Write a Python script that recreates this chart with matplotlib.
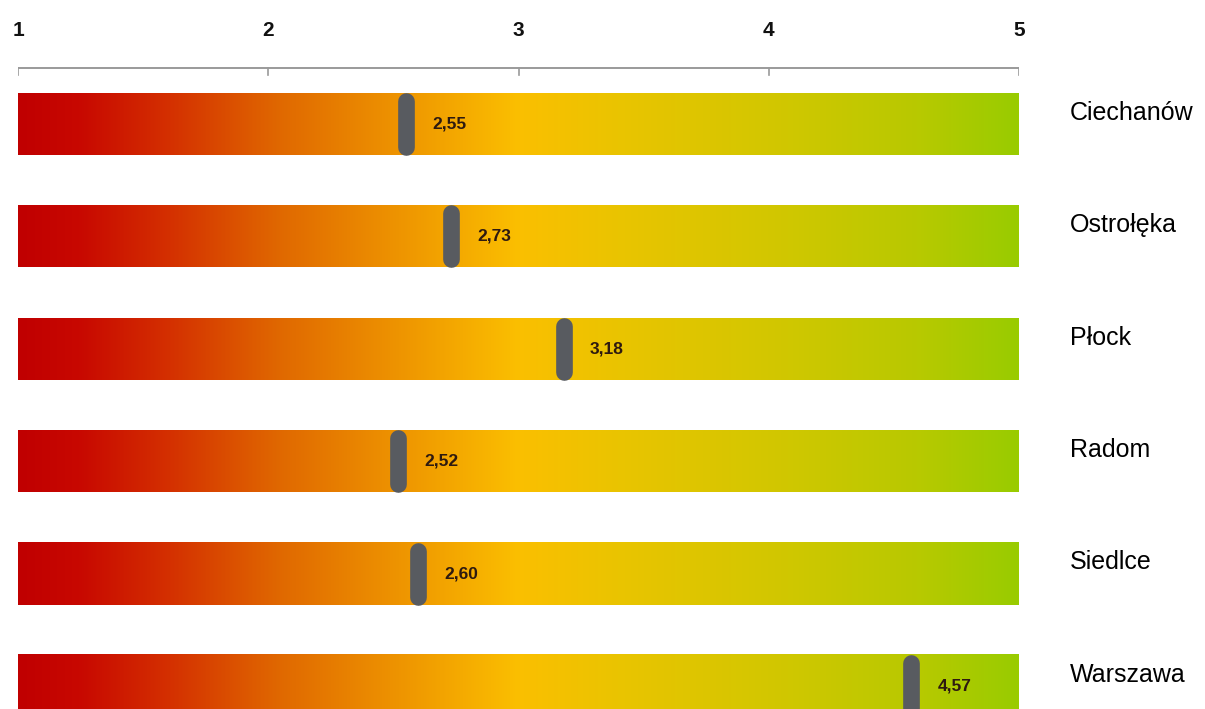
import numpy as np
import matplotlib
matplotlib.use('Agg')
import matplotlib.pyplot as plt
from matplotlib.colors import LinearSegmentedColormap

plt.rcParams['font.family'] = ['Liberation Sans', 'DejaVu Sans']

# ratings on a 1-5 scale
cities = ['Ciechanów', 'Ostrołęka', 'Płock', 'Radom', 'Siedlce', 'Warszawa']
scores = [2.55, 2.73, 3.18, 2.52, 2.60, 4.57]
score_labels = ['2,55', '2,73', '3,18', '2,52', '2,60', '4,57']
scale_ticks = [1, 2, 3, 4, 5]

# red -> orange -> yellow -> green scale
grad = LinearSegmentedColormap.from_list('scale', [
    (0.00, '#c00000'),
    (0.06, '#c80800'),
    (0.15, '#d43000'),
    (0.26, '#e06800'),
    (0.38, '#ee9400'),
    (0.50, '#fbbf00'),
    (0.60, '#eac400'),
    (0.77, '#d0c700'),
    (0.90, '#b8c900'),
    (1.00, '#99cc00'),
])

W, H = 1205, 709
fig = plt.figure(figsize=(W / 100, H / 100), dpi=100)
x0_px, x1_px = 18, 1019
ax = fig.add_axes([x0_px / W, 0, (x1_px - x0_px) / W, 1])

lo, hi = scale_ticks[0], scale_ticks[-1]
ax.set_xlim(lo, hi)
# row i sits at pixel 124 + 112.4*i
row_px, first_px = 112.4, 124
ax.set_ylim((H - first_px) / row_px, -first_px / row_px)
ax.axis('off')

bar_h = 62 / row_px
ramp = np.linspace(0, 1, 512).reshape(1, -1)

for i, (city, val, lab) in enumerate(zip(cities, scores, score_labels)):
    top, bot = i - bar_h / 2, i + bar_h / 2
    ax.imshow(ramp, cmap=grad, aspect='auto', extent=(lo, hi, bot, top),
              interpolation='bicubic', zorder=1)
    # marker: thick line with rounded caps
    cap = 8 / row_px
    ax.plot([val, val], [top + cap, bot - cap], color='#585b60', lw=12,
            solid_capstyle='round', zorder=3)
    ax.text(val + 0.105, i, lab, fontsize=12.5, fontweight='bold',
            color='#2e1a10', ha='left', va='center', zorder=4)
    ax.text(5.204, i - 0.1, city, fontsize=18, color='black',
            ha='left', va='center', clip_on=False)

# scale line above the bars
axis_y = (68 - first_px) / row_px
tick_len = 7 / row_px
ax.plot([lo, hi], [axis_y, axis_y], color='#9a9a9a', lw=1.4, zorder=2)
for t in scale_ticks:
    ax.plot([t, t], [axis_y, axis_y + tick_len], color='#9a9a9a', lw=1.2)
    ax.text(t, (30 - first_px) / row_px, str(t), fontsize=15, fontweight='bold',
            color='#111111', ha='center', va='center', clip_on=False)

ax.set_xlim(lo, hi)
fig.savefig('out.png', dpi=100, facecolor='white')
